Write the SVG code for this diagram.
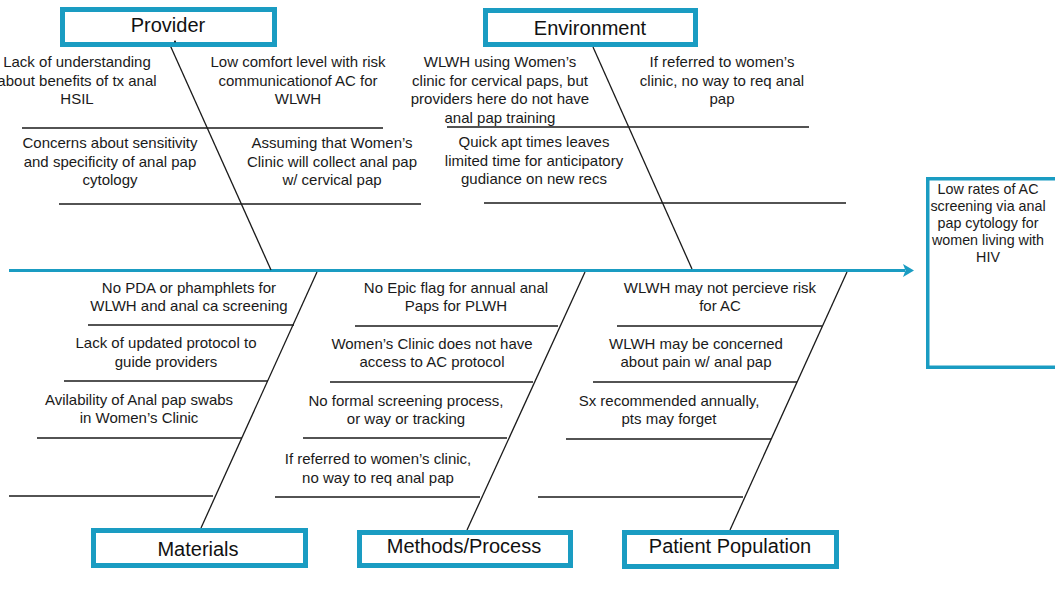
<svg xmlns="http://www.w3.org/2000/svg" width="1055" height="589" viewBox="0 0 1055 589">
  <style>
    .cat { fill: #ffffff; stroke: #1a9cc2; stroke-width: 5; }
    .effect { fill: #ffffff; stroke: #1a9cc2; stroke-width: 3.5; }
    .title { font-family: "Liberation Sans", Arial, sans-serif; font-size: 20px; fill: #111; text-anchor: middle; }
    .cause { font-family: "Liberation Sans", Arial, sans-serif; font-size: 15px; fill: #1a1a1a; text-anchor: middle; }
    .etext { font-family: "Liberation Sans", Arial, sans-serif; font-size: 14.3px; fill: #1a1a1a; text-anchor: middle; }
    .bone { stroke: #1a1a1a; stroke-width: 1.3; fill: none; }
    .spine { stroke: #1a9cc2; stroke-width: 3; fill: none; }
  </style>
  <rect width="1055" height="589" fill="#ffffff"/>

  <!-- connectors: spine, diagonal bones and cause rules -->
  <g id="connectors">
    <line class="spine" x1="9" y1="270.5" x2="905" y2="270.5"/>
    <polygon points="903,264 914,270.5 903,277 905.5,270.5" fill="#1a9cc2"/>

    <line class="bone" x1="170" y1="45" x2="271" y2="270"/>
    <line class="bone" x1="593" y1="47" x2="692" y2="269"/>
    <line class="bone" x1="201" y1="528" x2="317" y2="272"/>
    <line class="bone" x1="467" y1="530" x2="585" y2="272"/>
    <line class="bone" x1="730" y1="530" x2="847" y2="272"/>

    <!-- Provider rules -->
    <line class="bone" x1="22" y1="128" x2="383" y2="128"/>
    <line class="bone" x1="59" y1="204" x2="421" y2="204"/>
    <!-- Environment rules -->
    <line class="bone" x1="447" y1="127" x2="809" y2="127"/>
    <line class="bone" x1="484" y1="203" x2="846" y2="203"/>
    <!-- Materials rules -->
    <line class="bone" x1="88" y1="325" x2="294" y2="325"/>
    <line class="bone" x1="64" y1="381" x2="268" y2="381"/>
    <line class="bone" x1="37" y1="438" x2="242" y2="438"/>
    <line class="bone" x1="9" y1="496" x2="213" y2="496"/>
    <!-- Methods rules -->
    <line class="bone" x1="355" y1="326" x2="558" y2="326"/>
    <line class="bone" x1="330" y1="382" x2="533" y2="382"/>
    <line class="bone" x1="303" y1="438" x2="507" y2="438"/>
    <line class="bone" x1="275" y1="497" x2="480" y2="497"/>
    <!-- Patient rules -->
    <line class="bone" x1="617" y1="326" x2="822" y2="326"/>
    <line class="bone" x1="593" y1="382" x2="797" y2="382"/>
    <line class="bone" x1="566" y1="439" x2="771" y2="439"/>
    <line class="bone" x1="538" y1="497" x2="743" y2="497"/>
  </g>

  <g id="provider">
    <rect class="cat" x="62.5" y="9.5" width="212" height="35"/>
    <text class="title" x="168" y="31.5">Provider</text>
    <circle cx="175" cy="41.5" r="1" fill="#111"/>
    <text class="cause" x="77" y="67"><tspan x="77">Lack of understanding</tspan><tspan x="77" dy="18.5">about benefits of tx anal</tspan><tspan x="77" dy="18.5">HSIL</tspan></text>
    <text class="cause" x="298" y="67"><tspan x="298">Low comfort level with risk</tspan><tspan x="298" dy="18.5">communicationof AC for</tspan><tspan x="298" dy="18.5">WLWH</tspan></text>
    <text class="cause" x="110" y="148"><tspan x="110">Concerns about sensitivity</tspan><tspan x="110" dy="18.5">and specificity of anal pap</tspan><tspan x="110" dy="18.5">cytology</tspan></text>
    <text class="cause" x="332" y="148"><tspan x="332">Assuming that Women’s</tspan><tspan x="332" dy="18.5">Clinic will collect anal pap</tspan><tspan x="332" dy="18.5">w/ cervical pap</tspan></text>
  </g>

  <g id="environment">
    <rect class="cat" x="485.5" y="10.5" width="210" height="34"/>
    <text class="title" x="590" y="35">Environment</text>
    <text class="cause" x="500" y="67"><tspan x="500">WLWH using Women’s</tspan><tspan x="500" dy="18.5">clinic for cervical paps, but</tspan><tspan x="500" dy="18.5">providers here do not have</tspan><tspan x="500" dy="18.5">anal pap training</tspan></text>
    <text class="cause" x="722" y="67"><tspan x="722">If referred to women’s</tspan><tspan x="722" dy="18.5">clinic, no way to req anal</tspan><tspan x="722" dy="18.5">pap</tspan></text>
    <text class="cause" x="534" y="147"><tspan x="534">Quick apt times leaves</tspan><tspan x="534" dy="18.5">limited time for anticipatory</tspan><tspan x="534" dy="18.5">gudiance on new recs</tspan></text>
  </g>

  <g id="materials">
    <rect class="cat" x="93.5" y="530.5" width="212" height="35"/>
    <text class="title" x="198" y="555.5">Materials</text>
    <text class="cause" x="189" y="292.5"><tspan x="189">No PDA or phamphlets for</tspan><tspan x="189" dy="18.5">WLWH and anal ca screening</tspan></text>
    <text class="cause" x="166" y="348"><tspan x="166">Lack of updated protocol to</tspan><tspan x="166" dy="18.5">guide providers</tspan></text>
    <text class="cause" x="139" y="404.5"><tspan x="139">Avilability of Anal pap swabs</tspan><tspan x="139" dy="18.5">in Women’s Clinic</tspan></text>
  </g>

  <g id="methods">
    <rect class="cat" x="359.5" y="532.5" width="211" height="33"/>
    <text class="title" x="464" y="552.5">Methods/Process</text>
    <text class="cause" x="456" y="292.5"><tspan x="456">No Epic flag for annual anal</tspan><tspan x="456" dy="18.5">Paps for PLWH</tspan></text>
    <text class="cause" x="432" y="348.5"><tspan x="432">Women’s Clinic does not have</tspan><tspan x="432" dy="18.5">access to AC protocol</tspan></text>
    <text class="cause" x="406" y="405.5"><tspan x="406">No formal screening process,</tspan><tspan x="406" dy="18.5">or way or tracking</tspan></text>
    <text class="cause" x="378" y="464"><tspan x="378">If referred to women’s clinic,</tspan><tspan x="378" dy="18.5">no way to req anal pap</tspan></text>
  </g>

  <g id="patient-population">
    <rect class="cat" x="624.5" y="532.5" width="212" height="34"/>
    <text class="title" x="730" y="552.5">Patient Population</text>
    <text class="cause" x="720" y="292.5"><tspan x="720">WLWH may not percieve risk</tspan><tspan x="720" dy="18.5">for AC</tspan></text>
    <text class="cause" x="696" y="348.5"><tspan x="696">WLWH may be concerned</tspan><tspan x="696" dy="18.5">about pain w/ anal pap</tspan></text>
    <text class="cause" x="669" y="405.5"><tspan x="669">Sx recommended annually,</tspan><tspan x="669" dy="18.5">pts may forget</tspan></text>
  </g>

  <g id="effect">
    <rect class="effect" x="927.75" y="178.75" width="140" height="188.5"/>
    <text class="etext" x="988" y="193.5"><tspan x="988">Low rates of AC</tspan><tspan x="988" dy="17">screening via anal</tspan><tspan x="988" dy="17">pap cytology for</tspan><tspan x="988" dy="17">women living with</tspan><tspan x="988" dy="17">HIV</tspan></text>
  </g>
</svg>
